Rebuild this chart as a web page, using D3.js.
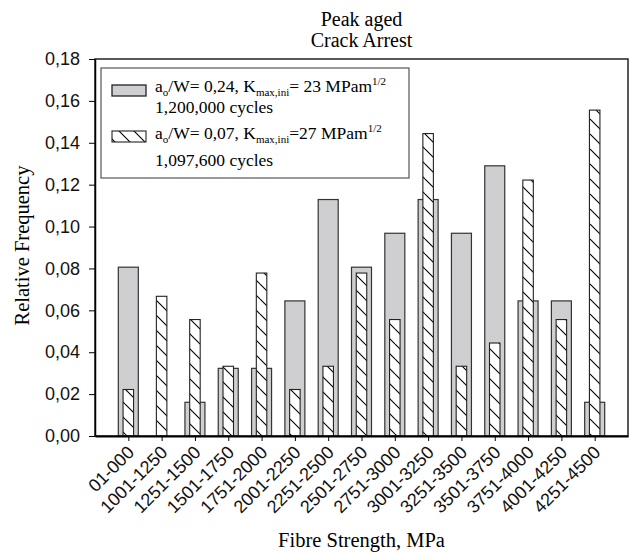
<!DOCTYPE html>
<html>
<head>
<meta charset="utf-8">
<script src="https://cdn.jsdelivr.net/npm/d3@7"></script>
<style>
  body { margin: 0; background: #fff; }
</style>
</head>
<body>
<div id="chart"></div>
<script>
// categorías (intervalos de resistencia)
const categorias = ["01-000", "1001-1250", "1251-1500", "1501-1750", "1751-2000",
    "2001-2250", "2251-2500", "2501-2750", "2751-3000", "3001-3250",
    "3251-3500", "3501-3750", "3751-4000", "4001-4250", "4251-4500"];

// serie 1: a0/W = 0,24 (barras grises)
const serieGris = [0.0806, 0, 0.0161, 0.0323, 0.0323, 0.0645, 0.1129, 0.0806,
    0.0968, 0.1129, 0.0968, 0.1290, 0.0645, 0.0645, 0.0161];

// serie 2: a0/W = 0,07 (barras rayadas)
const serieRayada = [0.0222, 0.0667, 0.0556, 0.0333, 0.0778, 0.0222, 0.0333, 0.0778,
    0.0556, 0.1444, 0.0333, 0.0444, 0.1222, 0.0556, 0.1556];

const yTicks = [0, 0.02, 0.04, 0.06, 0.08, 0.10, 0.12, 0.14, 0.16, 0.18];

const svgWidth = 631, svgHeight = 555;
const margin = { top: 59, right: 3, bottom: 119, left: 95 };
const width = svgWidth - margin.left - margin.right;
const height = svgHeight - margin.top - margin.bottom;

const serif = "'Liberation Serif', 'Times New Roman', serif";
const sans = "'Liberation Sans', Arial, sans-serif";

const svg = d3.select("#chart")
    .append("svg")
    .attr("width", svgWidth)
    .attr("height", svgHeight);

const defs = svg.append("defs");
const pat = defs.append("pattern")
    .attr("id", "rayas")
    .attr("patternUnits", "userSpaceOnUse")
    .attr("width", 15)
    .attr("height", 15);
pat.append("rect").attr("width", 15).attr("height", 15).attr("fill", "#fff");
pat.append("path")
    .attr("d", "M0,0 L15,15 M-5,10 L0,15 M10,-5 L15,0")
    .attr("stroke", "#000")
    .attr("stroke-width", 1.1);

const g = svg.append("g")
    .attr("transform", `translate(${margin.left}, ${margin.top})`);

// escalas
const x = d3.scalePoint()
    .domain(categorias)
    .range([0, width])
    .padding(1);

const y = d3.scaleLinear()
    .domain([0, 0.18])
    .range([height, 0]);

const anchoGris = 20, anchoRayado = 10.5;

// barras grises
g.selectAll("rect.gris")
    .data(categorias.map((c, i) => ({ c, v: serieGris[i] })).filter(d => d.v > 0))
    .enter()
    .append("rect")
    .attr("class", "gris")
    .attr("x", d => x(d.c) - anchoGris / 2)
    .attr("y", d => y(d.v))
    .attr("width", anchoGris)
    .attr("height", d => y(0) - y(d.v))
    .attr("fill", "#cfcfd1")
    .attr("stroke", "#333")
    .attr("stroke-width", 1.2);

// barras rayadas
g.selectAll("rect.rayada")
    .data(categorias.map((c, i) => ({ c, v: serieRayada[i] })))
    .enter()
    .append("rect")
    .attr("class", "rayada")
    .attr("x", d => x(d.c) - anchoRayado / 2)
    .attr("y", d => y(d.v))
    .attr("width", anchoRayado)
    .attr("height", d => y(0) - y(d.v))
    .attr("fill", "url(#rayas)")
    .attr("stroke", "#222")
    .attr("stroke-width", 1.1);

// marco
g.append("rect")
    .attr("width", width)
    .attr("height", height)
    .attr("fill", "none")
    .attr("stroke", "#222")
    .attr("stroke-width", 1.5);

// ejes
const ejeY = g.append("g")
    .call(d3.axisLeft(y).tickValues(yTicks).tickSize(6).tickSizeOuter(0)
        .tickFormat(d => d3.format(".2f")(d).replace(".", ",")));
ejeY.select(".domain").attr("stroke-width", 1.5);
ejeY.selectAll("text")
    .style("font-family", sans)
    .style("font-size", "18px")
    .attr("fill", "#111")
    .attr("x", -15);

const ejeX = g.append("g")
    .attr("transform", `translate(0, ${height})`)
    .call(d3.axisBottom(x).tickSize(5).tickSizeOuter(0));
ejeX.select(".domain").attr("stroke-width", 2);
ejeX.selectAll("text")
    .style("font-family", sans)
    .style("font-size", "18px")
    .attr("fill", "#111")
    .attr("x", 0)
    .attr("y", 0)
    .attr("dy", "0.35em")
    .attr("transform", "translate(2, 13) rotate(-45)")
    .style("text-anchor", "end");

// títulos
svg.append("text")
    .attr("x", margin.left + width / 2).attr("y", 26)
    .attr("text-anchor", "middle")
    .style("font-family", serif).style("font-size", "20px")
    .text("Peak aged");
svg.append("text")
    .attr("x", margin.left + width / 2).attr("y", 47)
    .attr("text-anchor", "middle")
    .style("font-family", serif).style("font-size", "20px")
    .text("Crack Arrest");

svg.append("text")
    .attr("x", margin.left + width / 2).attr("y", 547)
    .attr("text-anchor", "middle")
    .style("font-family", serif).style("font-size", "20.5px")
    .text("Fibre Strength, MPa");

svg.append("text")
    .attr("transform", `translate(29, ${margin.top + height / 2 - 2}) rotate(-90)`)
    .attr("text-anchor", "middle")
    .style("font-family", serif).style("font-size", "20.5px")
    .text("Relative Frequency");

// leyenda
const leyenda = svg.append("g").attr("transform", "translate(101, 68)");
leyenda.append("rect")
    .attr("width", 308).attr("height", 110)
    .attr("fill", "#fff").attr("stroke", "#555").attr("stroke-width", 1.2);

leyenda.append("rect")
    .attr("x", 11).attr("y", 17).attr("width", 34).attr("height", 11)
    .attr("fill", "#cfcfd1").attr("stroke", "#222").attr("stroke-width", 1.3);
leyenda.append("rect")
    .attr("x", 11).attr("y", 63).attr("width", 34).attr("height", 11)
    .attr("fill", "url(#rayas)").attr("stroke", "#222").attr("stroke-width", 1.1);

function linea(y0, partes) {
    const t = leyenda.append("text")
        .attr("x", 54).attr("y", y0)
        .style("font-family", serif).style("font-size", "17.5px");
    partes.forEach(([txt, tipo]) => {
        const s = t.append("tspan").text(txt);
        if (tipo === "sub") s.style("font-size", "11px").attr("baseline-shift", "-4");
        if (tipo === "sup") s.style("font-size", "11px").attr("baseline-shift", "7");
    });
}

linea(24, [["a"], ["o", "sub"], ["/W= 0,24, K"], ["max,ini", "sub"], ["= 23 MPam"], ["1/2", "sup"]]);
linea(45, [["1,200,000 cycles"]]);
linea(71, [["a"], ["o", "sub"], ["/W= 0,07, K"], ["max,ini", "sub"], ["=27 MPam"], ["1/2", "sup"]]);
linea(98, [["1,097,600 cycles"]]);
</script>
</body>
</html>
